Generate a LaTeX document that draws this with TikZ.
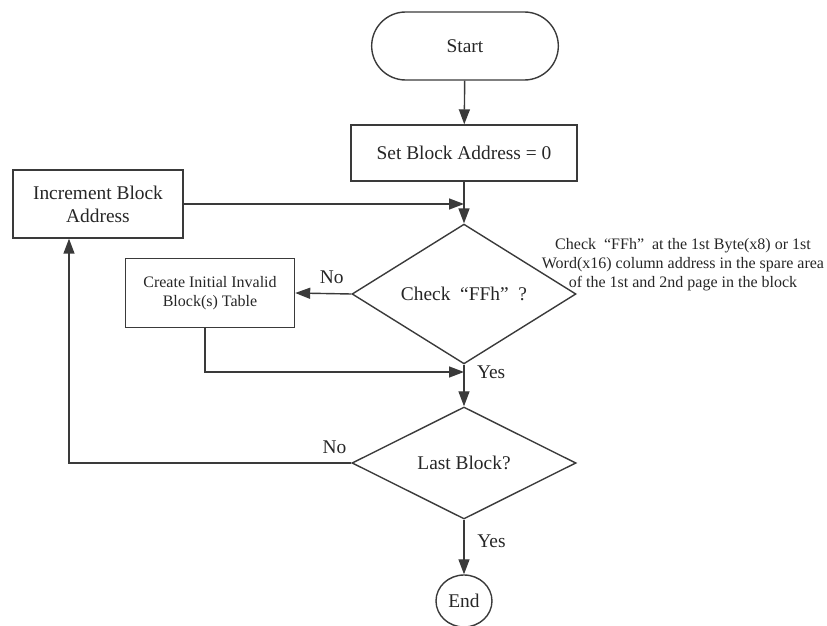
\documentclass[tikz,border=0pt]{standalone}
\usepackage{fontspec}
\setmainfont{Liberation Serif}
\newfontfamily\flowfont{Liberation Serif}
\usepackage{tikz}
\usetikzlibrary{positioning,arrows.meta,calc,shapes.geometric,shapes.misc}
\definecolor{linegray}{HTML}{3A3A3A}
\definecolor{textgray}{HTML}{262626}

\begin{document}
\begin{tikzpicture}[
    x=0.5pt, y=-0.5pt,
    every node/.style={text=textgray, font=\fontsize{9.7}{11.6}\selectfont\flowfont},
    box/.style={draw=linegray, line width=0.7pt, rectangle, align=center, inner sep=2pt},
    decision/.style={draw=linegray, line width=0.7pt, diamond, inner sep=0pt, minimum width=112pt, minimum height=56pt},
    terminal/.style={draw=linegray, line width=0.7pt, rounded rectangle, minimum width=100pt, minimum height=34pt},
    smalltext/.style={font=\fontsize{8}{9.5}\selectfont\flowfont},
    arr/.style={-{Triangle[length=7.5pt, width=5.5pt]}, line width=0.7pt, linegray}
  ]
    \useasboundingbox (0,0) rectangle (827,626);

    \node[terminal] (start) at (465,46) {Start};
    \node[box, minimum width=113pt, minimum height=28pt] (setaddr) at (464,153) {Set Block Address = 0};
    \node[box, minimum width=85pt, minimum height=34pt] (incaddr) at (98,204) {Increment Block\\Address};
    \node[decision] (chkff) at (464,294) {Check\ \ “FFh”\ \ ?};
    \node[box, smalltext, minimum width=84.5pt, minimum height=34.5pt] (mktable) at (210,293) {Create Initial Invalid\\Block(s) Table};
    \node[smalltext, align=center, inner sep=0pt] (note) at (683,265) {Check\ \ “FFh”\ \ at the 1st Byte(x8) or 1st\\Word(x16) column address in the spare area\\of the 1st and 2nd page in the block};
    \node[decision] (lastblk) at (464,463) {Last Block?};
    \node[draw=linegray, line width=0.7pt, ellipse, inner sep=0pt, minimum width=28pt, minimum height=26pt] (finish) at (464,601) {End};

    \coordinate (merge) at (464,372);
    \coordinate (tabdown) at (205,372);
    \coordinate (back) at (69,463);

    \draw[arr] (start) -- (setaddr);
    \draw[arr] (setaddr) -- (chkff);
    \draw[arr] (incaddr.east) -- (incaddr.east -| chkff.north);
    \draw[arr] (chkff.west) -- node[pos=0.35, above=1.5pt] {No} (mktable.east);
    \draw[arr] (tabdown |- mktable.south) -- (tabdown) -- (merge);
    \draw[arr] (chkff.south) -- (lastblk.north);
    \node[right=3pt] at (merge) {Yes};
    \draw[arr] (lastblk.west) -- node[pos=0.06, above=1pt] {No} (back) -- (back |- incaddr.south);
    \draw[arr] (lastblk.south) -- node[pos=0.4, right=3pt] {Yes} (finish.north);
\end{tikzpicture}
\end{document}
